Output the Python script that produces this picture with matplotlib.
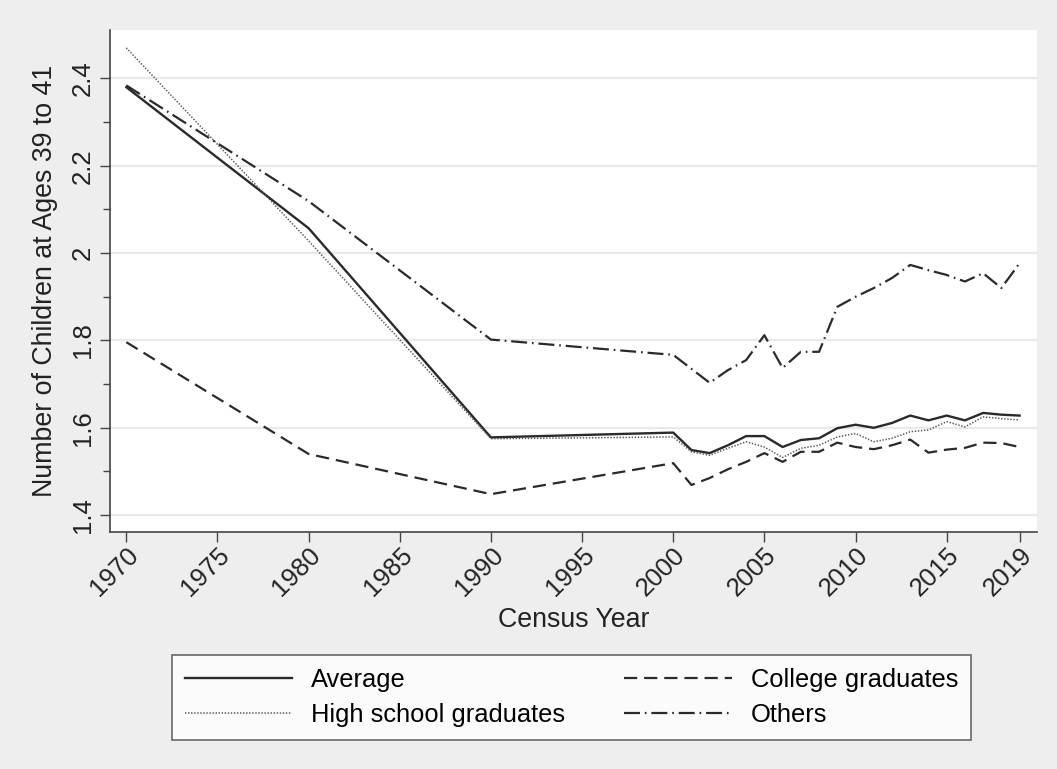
import numpy as np
import matplotlib.pyplot as plt

plt.rcParams['font.family'] = ['Liberation Sans', 'DejaVu Sans']
plt.rcParams['lines.scale_dashes'] = False

# Census years and average number of children at ages 39-41
years = [1970, 1980, 1990, 2000, 2001, 2002, 2003, 2004, 2005, 2006, 2007,
         2008, 2009, 2010, 2011, 2012, 2013, 2014, 2015, 2016, 2017, 2018, 2019]

average = [2.38, 2.057, 1.578, 1.589, 1.549, 1.542, 1.560, 1.581, 1.581, 1.556,
           1.572, 1.576, 1.599, 1.607, 1.600, 1.611, 1.628, 1.617, 1.628, 1.617,
           1.634, 1.630, 1.628]
college = [1.796, 1.540, 1.448, 1.519, 1.469, 1.485, 1.505, 1.522, 1.542, 1.522,
           1.545, 1.545, 1.566, 1.556, 1.551, 1.560, 1.573, 1.543, 1.550, 1.554,
           1.566, 1.565, 1.556]
high_school = [2.470, 2.028, 1.575, 1.579, 1.545, 1.537, 1.553, 1.568, 1.556, 1.532,
               1.553, 1.560, 1.579, 1.587, 1.568, 1.576, 1.591, 1.595, 1.614, 1.602,
               1.625, 1.621, 1.618]
others = [2.384, 2.119, 1.802, 1.767, 1.735, 1.703, 1.732, 1.755, 1.812, 1.737,
          1.774, 1.774, 1.877, 1.900, 1.920, 1.943, 1.973, 1.961, 1.950, 1.935,
          1.954, 1.920, 1.977]

xticks = [1970, 1975, 1980, 1985, 1990, 1995, 2000, 2005, 2010, 2015, 2019]
yticks = [1.4, 1.6, 1.8, 2.0, 2.2, 2.4]
ytick_labels = ['1.4', '1.6', '1.8', '2', '2.2', '2.4']

bg = '#eeeeee'
ink = '#2a2a2a'
text_col = '#222222'

fig = plt.figure(figsize=(10.57, 7.69), dpi=100, facecolor=bg)
ax = fig.add_axes([0.104, 0.308, 0.877, 0.653])
ax.set_facecolor('white')

ax.plot(years, average, color=ink, lw=1.7, linestyle='-', label='Average')
ax.plot(years, high_school, color='#555555', lw=1.1,
        linestyle=(0, (1.0, 1.2)), label='High school graduates')
ax.plot(years, college, color=ink, lw=1.6,
        linestyle=(0, (9.5, 5.0)), label='College graduates')
ax.plot(years, others, color=ink, lw=1.6,
        linestyle=(0, (11.5, 3.5, 1.2, 3.5)), label='Others')

ax.set_xlim(1969.1, 2019.95)
ax.set_ylim(1.361, 2.511)

ax.set_yticks(yticks)
ax.set_yticklabels(ytick_labels)
ax.set_yticks(np.arange(1.5, 2.45, 0.2), minor=True)
ax.set_xticks(xticks)
ax.set_xticklabels([str(y) for y in xticks], rotation=45, ha='right', va='top',
                   rotation_mode='anchor')

ax.grid(axis='y', which='major', color='#e9e9e9', lw=1.6)
ax.set_axisbelow(True)

for side in ['top', 'right']:
    ax.spines[side].set_visible(False)
for side in ['left', 'bottom']:
    ax.spines[side].set_color('#444444')
    ax.spines[side].set_linewidth(1.2)

ax.tick_params(axis='both', which='major', length=7, width=1.0, color='#444444',
               labelsize=18.5, labelcolor=text_col)
ax.tick_params(axis='y', which='minor', length=5, width=1.0, color='#444444')
ax.tick_params(axis='y', which='major', pad=4)
ax.tick_params(axis='x', which='major', pad=1)
for lab in ax.get_yticklabels():
    lab.set_rotation(90)
    lab.set_va('center')

ax.set_xlabel('Census Year', fontsize=19.3, color=text_col)
ax.xaxis.set_label_coords(0.5, -0.175)
ax.xaxis.label.set_va('center')
ax.set_ylabel('Number of Children at Ages 39 to 41', fontsize=19.3, color=text_col)
ax.yaxis.set_label_coords(-0.070, 0.5)
ax.yaxis.label.set_va('center')

leg = fig.legend(loc='center', bbox_to_anchor=(0.5407, 0.093), ncol=2,
                 fontsize=18.4, frameon=True, fancybox=False, handlelength=4.2,
                 handletextpad=0.75, columnspacing=2.3, labelspacing=0.45,
                 borderpad=0.5, borderaxespad=0)
leg.get_frame().set_edgecolor('#444444')
leg.get_frame().set_linewidth(1.2)
leg.get_frame().set_facecolor('white')

fig.savefig('out.png', dpi=100, facecolor=bg)
